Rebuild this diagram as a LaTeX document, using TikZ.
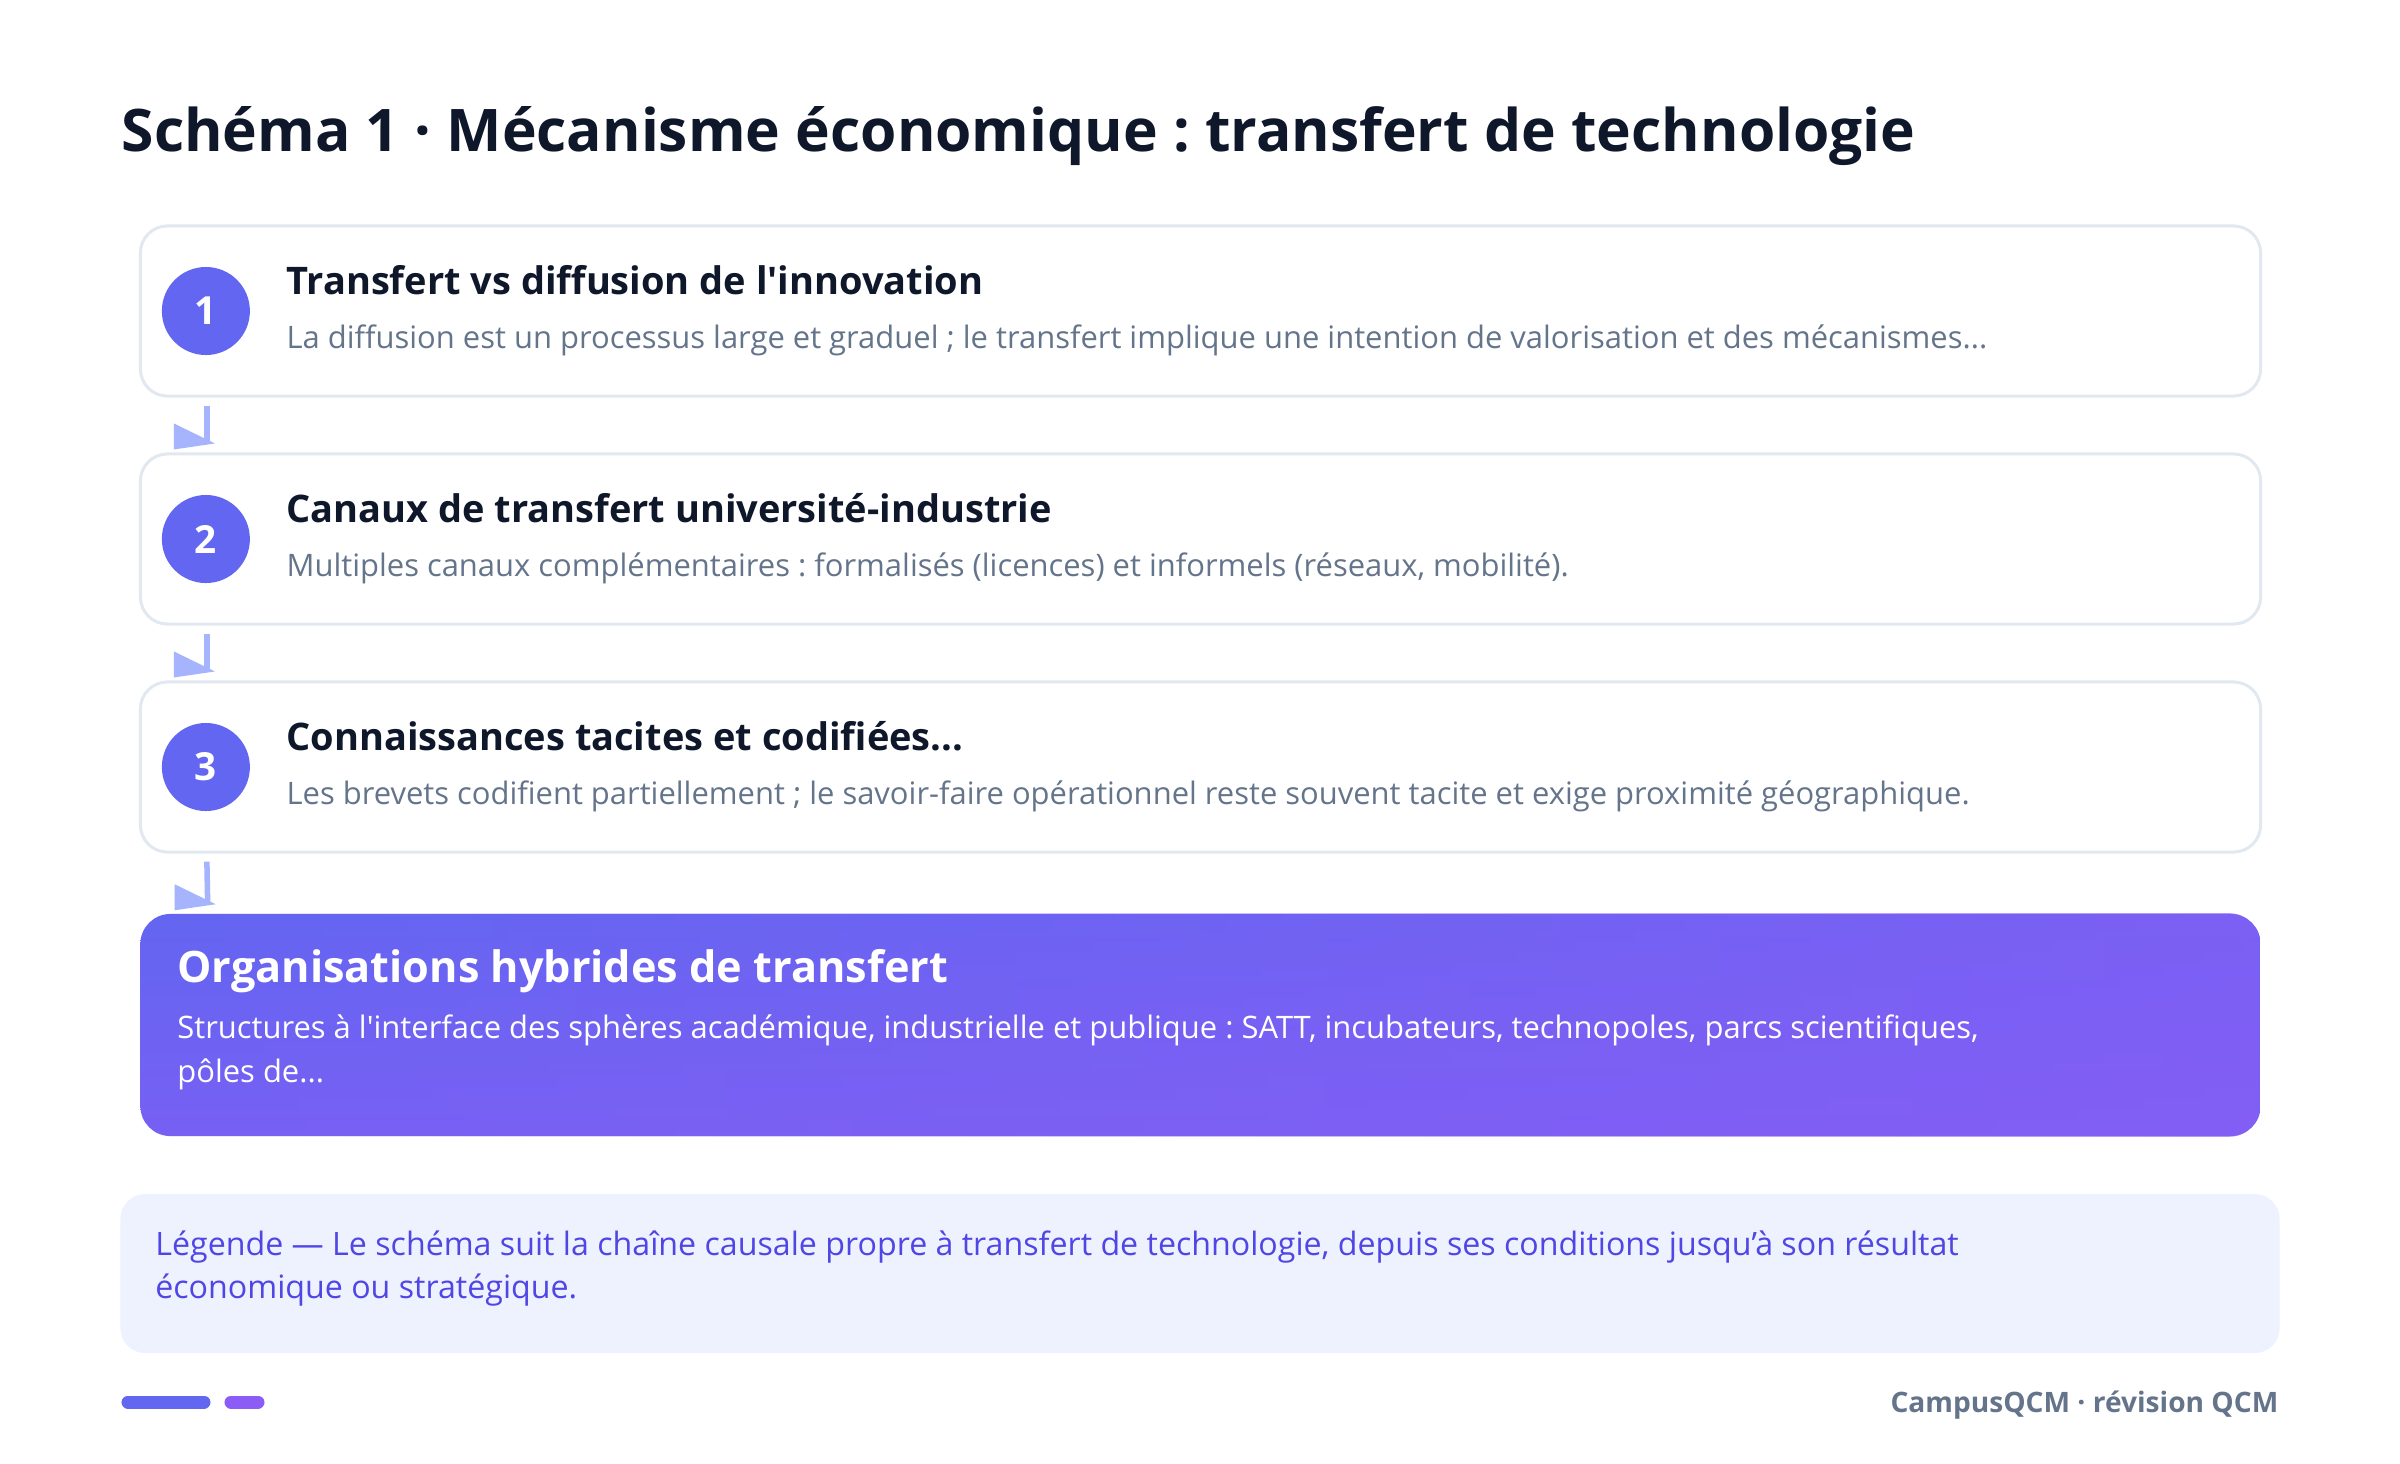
\documentclass[tikz,border=0pt]{standalone}
\usepackage{fontspec}
\setmainfont{Open Sans}
\usetikzlibrary{positioning, fadings}
\frenchspacing

\definecolor{ink}{HTML}{0F172A}
\definecolor{mute}{HTML}{64748B}
\definecolor{edge}{HTML}{E2E8F0}
\definecolor{accent}{HTML}{6366F1}
\definecolor{violet}{HTML}{8B5CF6}
\definecolor{midtone}{HTML}{7761F3}
\definecolor{linkcol}{HTML}{A5B4FC}
\definecolor{legendbg}{HTML}{EEF2FF}
\definecolor{legendfg}{HTML}{4F46E5}

\tikzset{
    stepbox/.style={draw=edge, line width=0.03cm, fill=white, rounded corners=0.27cm,
        minimum width=21.19cm, minimum height=1.7cm, inner sep=0},
    numdot/.style={circle, fill=accent, minimum size=0.88cm, inner sep=0, text=white,
        font=\bfseries\fontsize{11}{13}\selectfont},
    steptitle/.style={anchor=base west, inner sep=0, text=ink, font=\bfseries\fontsize{10.8}{12}\selectfont},
    stepnote/.style={anchor=base west, inner sep=0, text=mute, font=\fontsize{8.8}{10}\selectfont},
    link/.style={draw=linkcol, line width=0.055cm},
}

\begin{document}
\begin{tikzpicture}[x=0.01cm, y=-0.01cm]
        \useasboundingbox[fill=white] (0,0) rectangle (2400,1463);

        \node[anchor=base west, inner sep=0, text=ink, font=\bfseries\fontsize{16.7}{19}\selectfont] (title) at (121,151)
            {Schéma 1 · Mécanisme économique : transfert de technologie};

        % Steps of the chain
        \node[stepbox] (s1) at (1200.5, 311) {};
        \node[stepbox] (s2) at (1200.5, 539) {};
        \node[stepbox] (s3) at (1200.5, 767) {};

        \node[numdot] (c1) at ([shift={(67,0)}]s1.west) {1};
        \node[numdot] (c2) at ([shift={(67,0)}]s2.west) {2};
        \node[numdot] (c3) at ([shift={(67,0)}]s3.west) {3};

        \node[steptitle] (t1) at ([shift={(147,-17)}]s1.west) {Transfert vs diffusion de l\textquotesingle innovation};
        \node[stepnote]  (n1) at ([shift={(147,37)}]s1.west)
            {La diffusion est un processus large et graduel ; le transfert implique une intention de valorisation et des mécanismes...};
        \node[steptitle] (t2) at ([shift={(147,-17)}]s2.west) {Canaux de transfert université-industrie};
        \node[stepnote]  (n2) at ([shift={(147,37)}]s2.west)
            {Multiples canaux complémentaires : formalisés (licences) et informels (réseaux, mobilité).};
        \node[steptitle] (t3) at ([shift={(147,-17)}]s3.west) {Connaissances tacites et codifiées...};
        \node[stepnote]  (n3) at ([shift={(147,37)}]s3.west)
            {Les brevets codifient partiellement ; le savoir-faire opérationnel reste souvent tacite et exige proximité géographique.};

        % Outcome (vertical shade, then a violet wash fading in to the right)
        \node[rounded corners=0.3cm, top color=accent, bottom color=midtone, minimum width=21.19cm,
            minimum height=2.22cm, inner sep=0] (s4) at (1200.5, 1025) {};
        \fill[violet, rounded corners=0.3cm, path fading=west, fill opacity=0.6]
            (s4.south west) rectangle (s4.north east);
        \node[anchor=base west, inner sep=0, text=white, font=\bfseries\fontsize{12.3}{14}\selectfont] (t4)
            at ([shift={(37,-43)}]s4.west) {Organisations hybrides de transfert};
        \node[anchor=base west, inner sep=0, text=white, font=\fontsize{8.8}{10}\selectfont] (n4)
            at ([shift={(37,13)}]s4.west)
            {Structures à l\textquotesingle interface des sphères académique, industrielle et publique : SATT, incubateurs, technopoles, parcs scientifiques,};
        \node[anchor=base west, inner sep=0, text=white, font=\fontsize{8.8}{10}\selectfont] (n4b)
            at ([shift={(37,57)}]s4.west) {pôles de...};

        % Arrows between the steps
        \foreach \a/\b in {s1/s2, s2/s3, s3/s4} {
            \draw[link] ([shift={(68,8)}]\a.south west) -- ([shift={(68,-9)}]\b.north west);
            \fill[linkcol] ([shift={(35,-29)}]\b.north west) -- ++(0,26) -- ++(41,-6) -- cycle;
        }

        % Legend
        \node[fill=legendbg, rounded corners=0.25cm, minimum width=21.58cm, minimum height=1.59cm,
            inner sep=0] (legend) at (1200, 1273.5) {};
        \node[anchor=base west, inner sep=0, text=legendfg, font=\fontsize{9.15}{11}\selectfont] (l1)
            at ([shift={(35,-18)}]legend.west)
            {Légende — Le schéma suit la chaîne causale propre à transfert de technologie, depuis ses conditions jusqu’à son résultat};
        \node[anchor=base west, inner sep=0, text=legendfg, font=\fontsize{9.15}{11}\selectfont] (l2)
            at ([shift={(35,25)}]legend.west) {économique ou stratégique.};

        % Footer
        \draw[accent, line width=0.13cm, line cap=round] (128,1402) -- (204,1402);
        \draw[violet, line width=0.13cm, line cap=round] (231,1402) -- (258,1402);
        \node[anchor=base east, inner sep=0, text=mute, font=\bfseries\fontsize{8}{10}\selectfont] (brand)
            at (2279,1412) {CampusQCM · révision QCM};

    \end{tikzpicture}
\end{document}
